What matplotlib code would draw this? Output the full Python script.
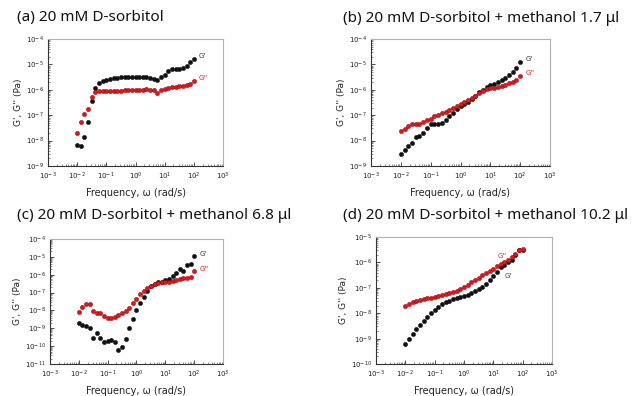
import matplotlib
matplotlib.use("Agg")
import matplotlib.pyplot as plt
from matplotlib.ticker import LogLocator, NullFormatter
import numpy as np

# angular frequency, 8 points per decade (rad/s)
freq = [0.01, 0.01334, 0.01778, 0.02371, 0.03162, 0.04217, 0.05623, 0.07499,
        0.1, 0.1334, 0.1778, 0.2371, 0.3162, 0.4217, 0.5623, 0.7499,
        1.0, 1.334, 1.778, 2.371, 3.162, 4.217, 5.623, 7.499,
        10.0, 13.34, 17.78, 23.71, 31.62, 42.17, 56.23, 74.99, 100.0]

# log10 of moduli
a_gp = [-8.17, -8.23, -7.87, -7.28, -6.44, -5.92, -5.75, -5.65, -5.61, -5.57, -5.55,
        -5.52, -5.51, -5.50, -5.50, -5.48, -5.48, -5.48, -5.48, -5.50, -5.52, -5.57,
        -5.63, -5.50, -5.42, -5.25, -5.18, -5.18, -5.17, -5.13, -5.06, -4.92, -4.79]
a_gpp = [-7.71, -7.25, -6.97, -6.74, -6.27, -6.07, -6.06, -6.05, -6.05, -6.04, -6.04,
         -6.03, -6.03, -6.02, -6.02, -6.01, -6.00, -5.99, -5.99, -5.98, -5.99, -6.02,
         -6.11, -6.00, -5.98, -5.94, -5.90, -5.89, -5.87, -5.84, -5.80, -5.77, -5.64]

b_gp = [-8.52, -8.36, -8.23, -8.09, -7.85, -7.83, -7.69, -7.49, -7.36, -7.33, -7.33,
        -7.29, -7.19, -7.05, -6.92, -6.76, -6.65, -6.57, -6.47, -6.36, -6.23, -6.09,
        -5.99, -5.89, -5.83, -5.76, -5.69, -5.63, -5.53, -5.43, -5.29, -5.13, -4.92]
b_gpp = [-7.64, -7.53, -7.43, -7.33, -7.33, -7.33, -7.27, -7.19, -7.13, -7.05, -7.00,
         -6.93, -6.87, -6.79, -6.72, -6.65, -6.57, -6.49, -6.41, -6.32, -6.23, -6.12,
         -6.03, -5.97, -5.93, -5.91, -5.88, -5.85, -5.80, -5.75, -5.69, -5.63, -5.45]

c_gp = [-8.70, -8.80, -8.89, -8.98, -9.54, -9.28, -9.56, -9.78, -9.69, -9.65, -9.76,
        -10.19, -10.06, -9.59, -8.98, -8.48, -7.96, -7.57, -7.23, -6.90, -6.62, -6.53,
        -6.43, -6.38, -6.30, -6.25, -6.06, -5.93, -5.69, -5.78, -5.47, -5.38, -4.95]
c_gpp = [-8.11, -7.79, -7.64, -7.66, -8.01, -8.13, -8.16, -8.33, -8.42, -8.42, -8.35,
         -8.26, -8.16, -8.01, -7.88, -7.61, -7.36, -7.09, -6.90, -6.75, -6.62, -6.53,
         -6.47, -6.43, -6.43, -6.40, -6.34, -6.29, -6.25, -6.19, -6.16, -6.10, -5.78]

d_gp = [-9.20, -9.00, -8.83, -8.64, -8.47, -8.30, -8.14, -8.01, -7.88, -7.74, -7.64,
        -7.56, -7.51, -7.45, -7.41, -7.37, -7.32, -7.28, -7.22, -7.12, -7.06, -6.95,
        -6.85, -6.69, -6.53, -6.36, -6.19, -6.10, -6.00, -5.90, -5.70, -5.53, -5.53]
d_gpp = [-7.72, -7.64, -7.57, -7.52, -7.48, -7.44, -7.41, -7.39, -7.35, -7.31, -7.28,
         -7.26, -7.22, -7.18, -7.12, -7.06, -6.98, -6.89, -6.79, -6.69, -6.60, -6.49,
         -6.40, -6.32, -6.25, -6.16, -6.07, -6.00, -5.90, -5.79, -5.66, -5.50, -5.46]

titles = ["(a) 20 mM D-sorbitol",
          "(b) 20 mM D-sorbitol + methanol 1.7 \u03bcl",
          "(c) 20 mM D-sorbitol + methanol 6.8 \u03bcl",
          "(d) 20 mM D-sorbitol + methanol 10.2 \u03bcl"]
ylims = [(1e-9, 1e-4), (1e-9, 1e-4), (1e-11, 1e-4), (1e-10, 1e-5)]
series = [(a_gp, a_gpp), (b_gp, b_gpp), (c_gp, c_gpp), (d_gp, d_gpp)]

# axes boxes in pixels: left, top, right, bottom
boxes = [(48, 39, 223, 166), (371, 39, 550, 166), (50, 239, 223, 364), (376, 237, 552, 364)]
title_pos = [(17, 18), (343, 18), (17, 216), (343, 216)]

W, H = 644, 396
RED = "#e3151b"
BLK = "#111111"
TITLE_FONT = ["Noto Sans", "DejaVu Sans"]

fig = plt.figure(figsize=(W / 100, H / 100), dpi=100, facecolor="white")

for i, ((gp, gpp), box, ylim) in enumerate(zip(series, boxes, ylims)):
    l, t, r, b = box
    ax = fig.add_axes([l / W, 1 - b / H, (r - l) / W, (b - t) / H])
    x = np.array(freq)
    ax.plot(x, 10 ** np.array(gp), "o", ms=3.1, color=BLK, mec=BLK, mew=0.3, zorder=3)
    ax.plot(x, 10 ** np.array(gpp), "o", ms=3.1, color=RED, mec="#7a0a0a", mew=0.3, zorder=3)
    ax.set_xscale("log")
    ax.set_yscale("log")
    ax.set_xlim(1e-3, 1e3)
    ax.set_ylim(*ylim)
    ax.xaxis.set_major_locator(LogLocator(base=10, numticks=10))
    ax.xaxis.set_minor_locator(LogLocator(base=10, subs=np.arange(2, 10), numticks=20))
    ax.yaxis.set_major_locator(LogLocator(base=10, numticks=12))
    ax.yaxis.set_minor_locator(LogLocator(base=10, subs=np.arange(2, 10), numticks=20))
    ax.xaxis.set_minor_formatter(NullFormatter())
    ax.yaxis.set_minor_formatter(NullFormatter())
    ax.tick_params(which="both", direction="in", labelsize=5, color="#333333")
    ax.tick_params(axis="x", pad=3.5)
    ax.tick_params(axis="y", pad=3)
    ax.tick_params(which="major", length=3, width=0.6)
    ax.tick_params(which="minor", length=1.5, width=0.4)
    ax.tick_params(axis="both", labelcolor="#222222")
    for side in ("left", "bottom"):
        ax.spines[side].set_color("#333333")
        ax.spines[side].set_linewidth(0.8)
    for side in ("top", "right"):
        ax.spines[side].set_color("#b0b0b0")
        ax.spines[side].set_linewidth(0.8)
    ax.set_xlabel("Frequency, \u03c9 (rad/s)", fontsize=7, color="#222222", labelpad=4)
    ax.set_ylabel("G', G'' (Pa)", fontsize=6.5, color="#222222", labelpad=2)
    tx, ty = title_pos[i]
    fig.text(tx / W, 1 - ty / H, titles[i], fontsize=11, family=TITLE_FONT,
             ha="left", va="center", color="#111111")

    if i == 3:
        ax.text(20, 10 ** -5.75, "G''", fontsize=5, color=RED, ha="center", va="center")
        ax.text(32, 10 ** -6.55, "G'", fontsize=5, color="#333333", ha="center", va="center")
    else:
        ax.text(150, 10 ** (gp[-1] + 0.12), "G'", fontsize=5, color="#333333", ha="left", va="center")
        ax.text(150, 10 ** (gpp[-1] + 0.1), "G''", fontsize=5, color=RED, ha="left", va="center")

fig.savefig("out.png", dpi=100, facecolor="white")
